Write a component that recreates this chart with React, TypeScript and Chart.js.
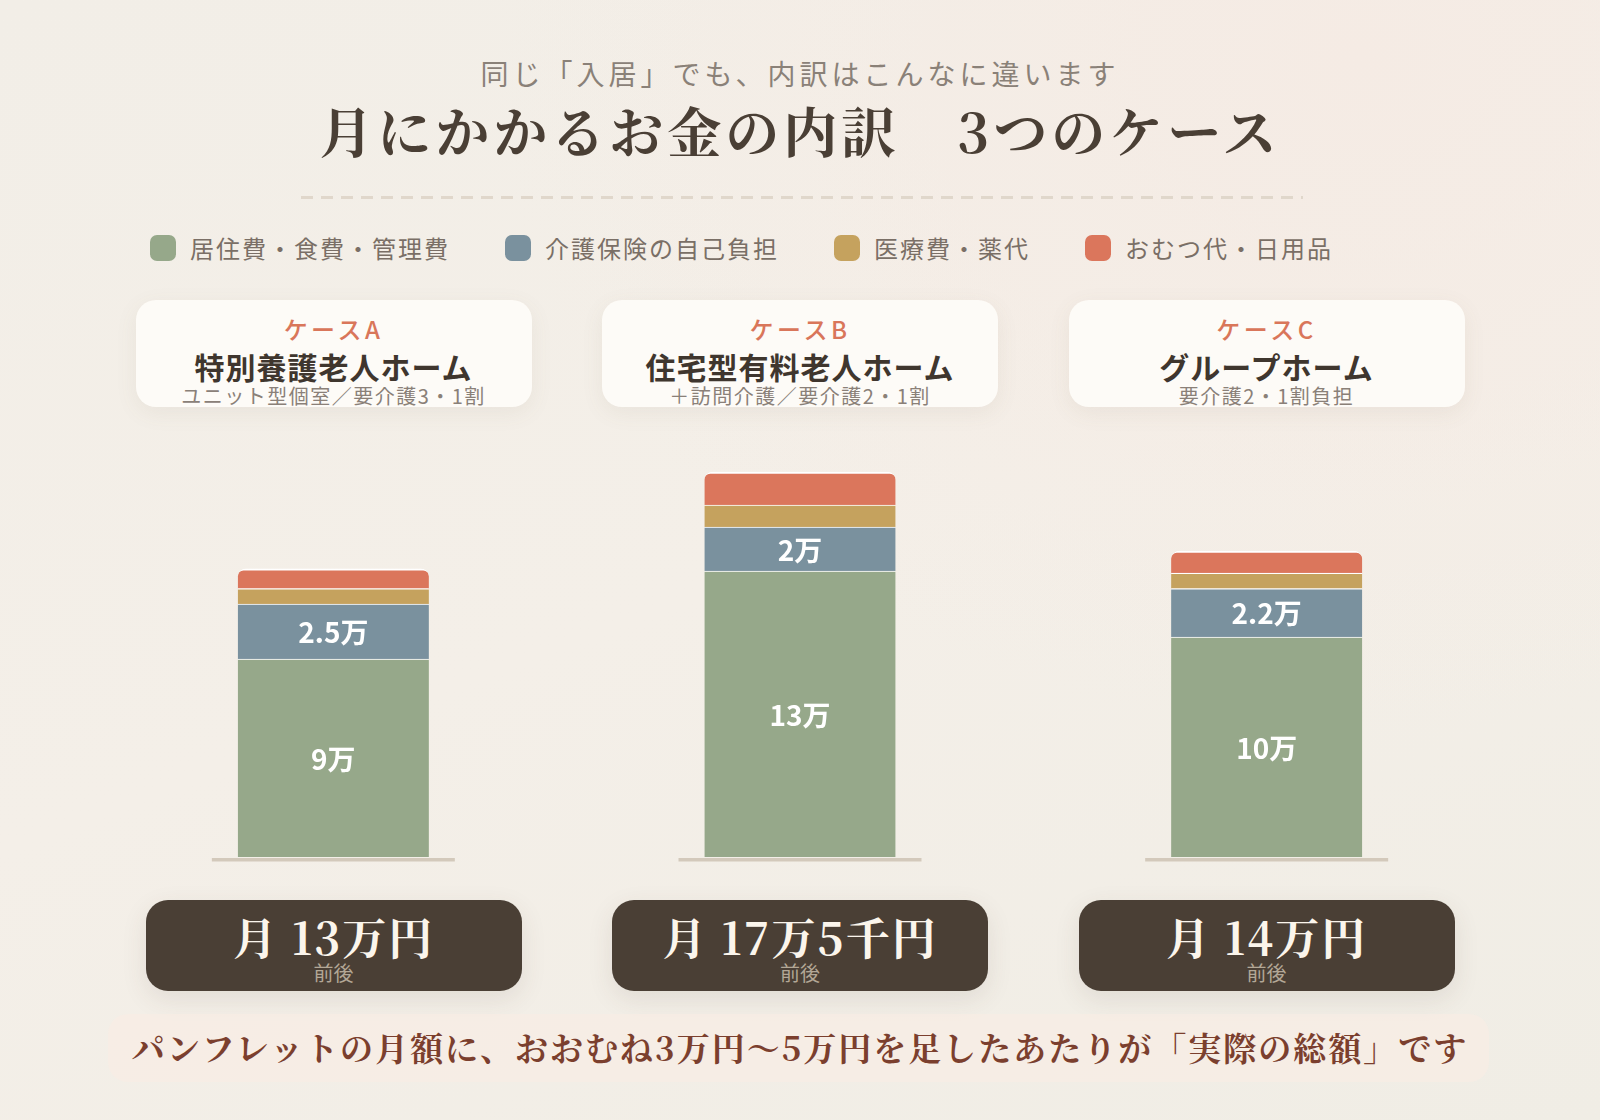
import { Chart, registerables } from "chart.js";
import React, { useEffect, useRef } from "react";

Chart.register(...registerables);

// data (unit: 万円 per month)
const categories = ["ケースA", "ケースB", "ケースC"];
const housing = [9, 13, 10]; // 居住費・食費・管理費
const care = [2.5, 2, 2.2]; // 介護保険の自己負担
const medical = [0.7, 1, 0.7]; // 医療費・薬代
const daily = [0.9, 1.5, 1.0]; // おむつ代・日用品

const seriesNames = ["居住費・食費・管理費", "介護保険の自己負担", "医療費・薬代", "おむつ代・日用品"];
const seriesColors = ["#96a88a", "#7a919e", "#c5a25e", "#db765c"];

const caseTitles = ["特別養護老人ホーム", "住宅型有料老人ホーム", "グループホーム"];
const caseNotes = ["ユニット型個室／要介護3・1割", "＋訪問介護／要介護2・1割", "要介護2・1割負担"];
const totals = ["月 13万円", "月 17万5千円", "月 14万円"];

const SANS = '"Noto Sans CJK JP", "Noto Sans", sans-serif';
const SERIF = '"Noto Serif CJK JP", "Noto Serif JP", "Source Han Serif JP", serif';

// chart area on the page
const CHART_LEFT = 100;
const CHART_TOP = 417;
const CHART_W = 1400;
const CHART_H = 448;
const centers = [333.5, 800, 1266.5];

const barLabels = {
  id: "barLabels",
  afterDatasetsDraw(chart: Chart) {
    const ctx = chart.ctx;
    ctx.save();
    ctx.fillStyle = "#ffffff";
    ctx.font = `bold 28px ${SANS}`;
    ctx.textAlign = "center";
    ctx.textBaseline = "middle";
    [0, 1].forEach((di) => {
      const meta = chart.getDatasetMeta(di);
      const values = chart.data.datasets[di].data as number[];
      meta.data.forEach((el: any, i) => {
        const cy = (el.y + el.base) / 2;
        ctx.fillText(`${values[i]}万`, el.x, cy + 1);
      });
    });
    ctx.restore();
  },
};

const baseLines = {
  id: "baseLines",
  afterDatasetsDraw(chart: Chart) {
    const ctx = chart.ctx;
    const x = chart.scales.x;
    const y0 = chart.scales.y.getPixelForValue(0);
    ctx.save();
    ctx.fillStyle = "#d3c9bb";
    categories.forEach((_, i) => {
      const cx = x.getPixelForValue(i);
      ctx.fillRect(cx - 121.5, y0 + 1, 243, 3.5);
    });
    ctx.restore();
  },
};

function useStackedChart(ref: React.RefObject<HTMLCanvasElement | null>) {
  useEffect(() => {
    if (!ref.current) throw new Error("missing canvas");
    const series = [housing, care, medical, daily];
    const chart = new Chart(ref.current, {
      type: "bar",
      data: {
        labels: categories,
        datasets: series.map((d, i) => ({
          label: seriesNames[i],
          data: d,
          backgroundColor: seriesColors[i],
          borderColor: "#ffffff",
          borderWidth: { top: i === 3 ? 2 : 1.2, left: 0, right: 0, bottom: 0 },
          borderRadius: i === 3 ? { topLeft: 8, topRight: 8, bottomLeft: 0, bottomRight: 0 } : 0,
          borderSkipped: "start" as const,
          barThickness: 191,
        })),
      },
      options: {
        animation: false,
        responsive: false,
        maintainAspectRatio: false,
        layout: { padding: { top: 0, bottom: 8, left: 0, right: 0 } },
        scales: {
          x: { stacked: true, display: false },
          y: { stacked: true, display: false, min: 0, max: 20 },
        },
        plugins: {
          legend: { display: false },
          tooltip: { enabled: false },
        },
      },
      plugins: [baseLines, barLabels],
    });
    return () => chart.destroy();
  }, []);
}

const App = () => {
  const chartRef = useRef<HTMLCanvasElement>(null);
  useStackedChart(chartRef);

  return (
    <div
      style={{
        position: "absolute",
        left: 0,
        top: 0,
        width: 1600,
        height: 1120,
        overflow: "hidden",
        fontFamily: SANS,
        background:
          "radial-gradient(ellipse at 85% 5%, #f5ebe4 0%, rgba(245,235,228,0) 45%), linear-gradient(160deg, #f2eee7 0%, #f4efe8 50%, #f0ede5 100%)",
      }}
    >
      {/* heading */}
      <div
        style={{
          position: "absolute",
          top: 59,
          left: 0,
          width: 1600,
          textAlign: "center",
          fontSize: 28,
          lineHeight: "28px",
          letterSpacing: 4,
          color: "#8a8178",
        }}
      >
        同じ「入居」でも、内訳はこんなに違います
      </div>
      <div
        style={{
          position: "absolute",
          top: 103,
          left: 0,
          width: 1600,
          textAlign: "center",
          fontFamily: SERIF,
          fontWeight: 700,
          fontSize: 54,
          lineHeight: "54px",
          letterSpacing: 4,
          color: "#4a3f35",
        }}
      >
        月にかかるお金の内訳　3つのケース
      </div>
      <div
        style={{
          position: "absolute",
          top: 196,
          left: 301,
          width: 1002,
          height: 3,
          background: "repeating-linear-gradient(90deg, #e0d7cb 0 12px, transparent 12px 20px)",
        }}
      />

      {/* legend */}
      <div style={{ position: "absolute", top: 235, left: 150, display: "flex", alignItems: "center", gap: 55 }}>
        {seriesNames.map((n, i) => (
          <div key={n} style={{ display: "flex", alignItems: "center", gap: 14 }}>
            <div style={{ width: 26, height: 26, borderRadius: 7, background: seriesColors[i] }} />
            <div style={{ fontSize: 24, lineHeight: "26px", letterSpacing: 2, color: "#7a6f66" }}>{n}</div>
          </div>
        ))}
      </div>

      {/* case cards */}
      {categories.map((c, i) => (
        <div
          key={c}
          style={{
            position: "absolute",
            top: 300,
            left: centers[i] - 198,
            width: 396,
            height: 107,
            borderRadius: 20,
            background: "#fdfbf7",
            boxShadow: "0 6px 22px rgba(120,100,80,0.08)",
            textAlign: "center",
          }}
        >
          <div style={{ position: "absolute", top: 17, left: 0, width: "100%", fontSize: 24, lineHeight: "24px", fontWeight: 500, letterSpacing: 3.5, color: "#d9765a" }}>
            {c}
          </div>
          <div style={{ position: "absolute", top: 51, left: 0, width: "100%", fontSize: 30, lineHeight: "30px", fontWeight: 700, letterSpacing: 1, color: "#3f362e" }}>
            {caseTitles[i]}
          </div>
          <div style={{ position: "absolute", top: 86, left: 0, width: "100%", fontSize: 20, lineHeight: "20px", letterSpacing: 1.5, color: "#8a8078" }}>
            {caseNotes[i]}
          </div>
        </div>
      ))}

      <canvas
        ref={chartRef}
        width={CHART_W}
        height={CHART_H}
        style={{ position: "absolute", left: CHART_LEFT, top: CHART_TOP, width: CHART_W, height: CHART_H }}
      />

      {/* totals */}
      {totals.map((t, i) => (
        <div
          key={t}
          style={{
            position: "absolute",
            top: 900,
            left: centers[i] - 188,
            width: 376,
            height: 91,
            borderRadius: 22,
            background: "#4a3f35",
            boxShadow: "0 8px 26px rgba(74,63,53,0.10)",
            textAlign: "center",
          }}
        >
          <div style={{ position: "absolute", top: 14, left: 0, width: "100%", fontFamily: SERIF, fontWeight: 700, fontSize: 44, lineHeight: "44px", letterSpacing: 2, color: "#fbf5ec" }}>
            {t}
          </div>
          <div style={{ position: "absolute", top: 63, left: 0, width: "100%", fontSize: 20, lineHeight: "20px", color: "#b3a796" }}>
            前後
          </div>
        </div>
      ))}

      {/* footnote */}
      <div
        style={{
          position: "absolute",
          top: 1014,
          left: 108,
          width: 1381,
          height: 68,
          borderRadius: 20,
          background: "rgba(248,236,228,0.7)",
        }}
      />
      <div
        style={{
          position: "absolute",
          top: 1030,
          left: 0,
          width: 1600,
          textAlign: "center",
          fontFamily: SERIF,
          fontWeight: 700,
          fontSize: 33,
          lineHeight: "33px",
          letterSpacing: 2,
          color: "#7b3f2e",
        }}
      >
        パンフレットの月額に、おおむね3万円〜5万円を足したあたりが「実際の総額」です
      </div>
    </div>
  );
};

export default App;
